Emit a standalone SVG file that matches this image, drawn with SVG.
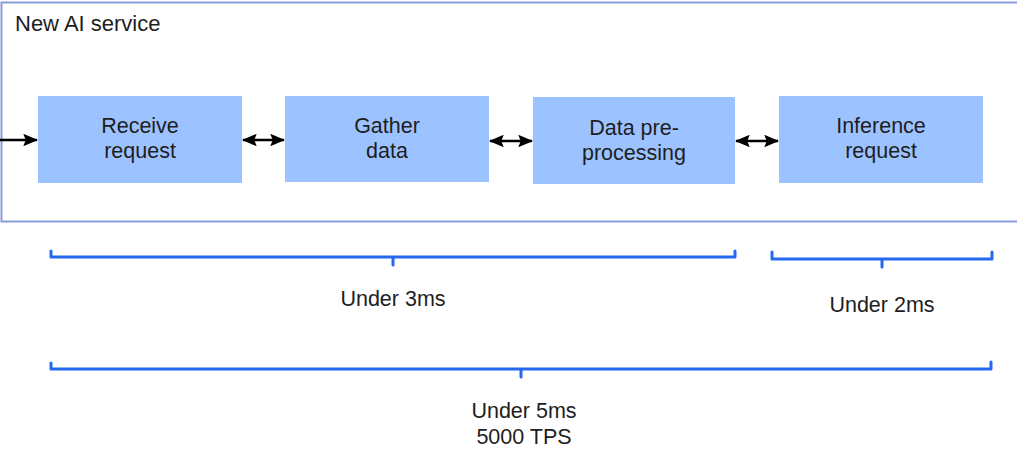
<svg xmlns="http://www.w3.org/2000/svg" width="1017" height="451" viewBox="0 0 1017 451">
<style>
.box{fill:#9cc3ff;}
.lbl{font-family:"Liberation Sans",Arial,sans-serif;font-size:21.5px;fill:#1e1e1e;text-anchor:middle;}
.title{font-family:"Liberation Sans",Arial,sans-serif;font-size:22px;fill:#1e1e1e;}
.conn{stroke:#000;stroke-width:2.5;fill:none;}
.brk{stroke:#2468f2;stroke-width:3;fill:none;stroke-linejoin:round;stroke-linecap:round;}
</style>
<defs>
<marker id="ah" viewBox="0 0 12 10" refX="11" refY="5" markerWidth="6" markerHeight="5" orient="auto-start-reverse" markerUnits="strokeWidth">
<path d="M0,0 L12,5 L0,10 L2,5 Z" fill="#000"/>
</marker>
</defs>
<rect width="1017" height="451" fill="#fff"/>
<g id="frame">
<path d="M1030,2.5 L1.5,2.5 L1.5,221.5 L1030,221.5" fill="none" stroke="#8a9cdc" stroke-width="2"/>
<text class="title" x="15" y="31">New AI service</text>
</g>
<g id="receive">
<rect class="box" x="38" y="96" width="204" height="87"/>
<text class="lbl" x="140" y="133">Receive</text>
<text class="lbl" x="140" y="158">request</text>
</g>
<g id="gather">
<rect class="box" x="285" y="96" width="204" height="86"/>
<text class="lbl" x="387" y="133">Gather</text>
<text class="lbl" x="387" y="158">data</text>
</g>
<g id="preprocess">
<rect class="box" x="533" y="97" width="202" height="87"/>
<text class="lbl" x="634" y="135">Data pre-</text>
<text class="lbl" x="634" y="160">processing</text>
</g>
<g id="inference">
<rect class="box" x="779" y="96" width="204" height="87"/>
<text class="lbl" x="881" y="133">Inference</text>
<text class="lbl" x="881" y="158">request</text>
</g>
<g id="connectors">
<line class="conn" x1="0" y1="140" x2="37" y2="140" marker-end="url(#ah)"/>
<line class="conn" x1="243" y1="140" x2="284" y2="140" marker-start="url(#ah)" marker-end="url(#ah)"/>
<line class="conn" x1="490" y1="141" x2="532" y2="141" marker-start="url(#ah)" marker-end="url(#ah)"/>
<line class="conn" x1="736" y1="141" x2="778" y2="141" marker-start="url(#ah)" marker-end="url(#ah)"/>
</g>
<g id="bracket-3ms">
<path class="brk" d="M51,251 L51,257 L735,257 L735,251 M393,257 L393,265"/>
<text class="lbl" x="393" y="306">Under 3ms</text>
</g>
<g id="bracket-2ms">
<path class="brk" d="M772,252 L772,259 L992,259 L992,252 M882,259 L882,267"/>
<text class="lbl" x="882" y="312">Under 2ms</text>
</g>
<g id="bracket-5ms">
<path class="brk" d="M51,363 L51,369 L991,369 L991,362 M521,369 L521,377"/>
<text class="lbl" x="524" y="418">Under 5ms</text>
<text class="lbl" x="524" y="444">5000 TPS</text>
</g>
</svg>
